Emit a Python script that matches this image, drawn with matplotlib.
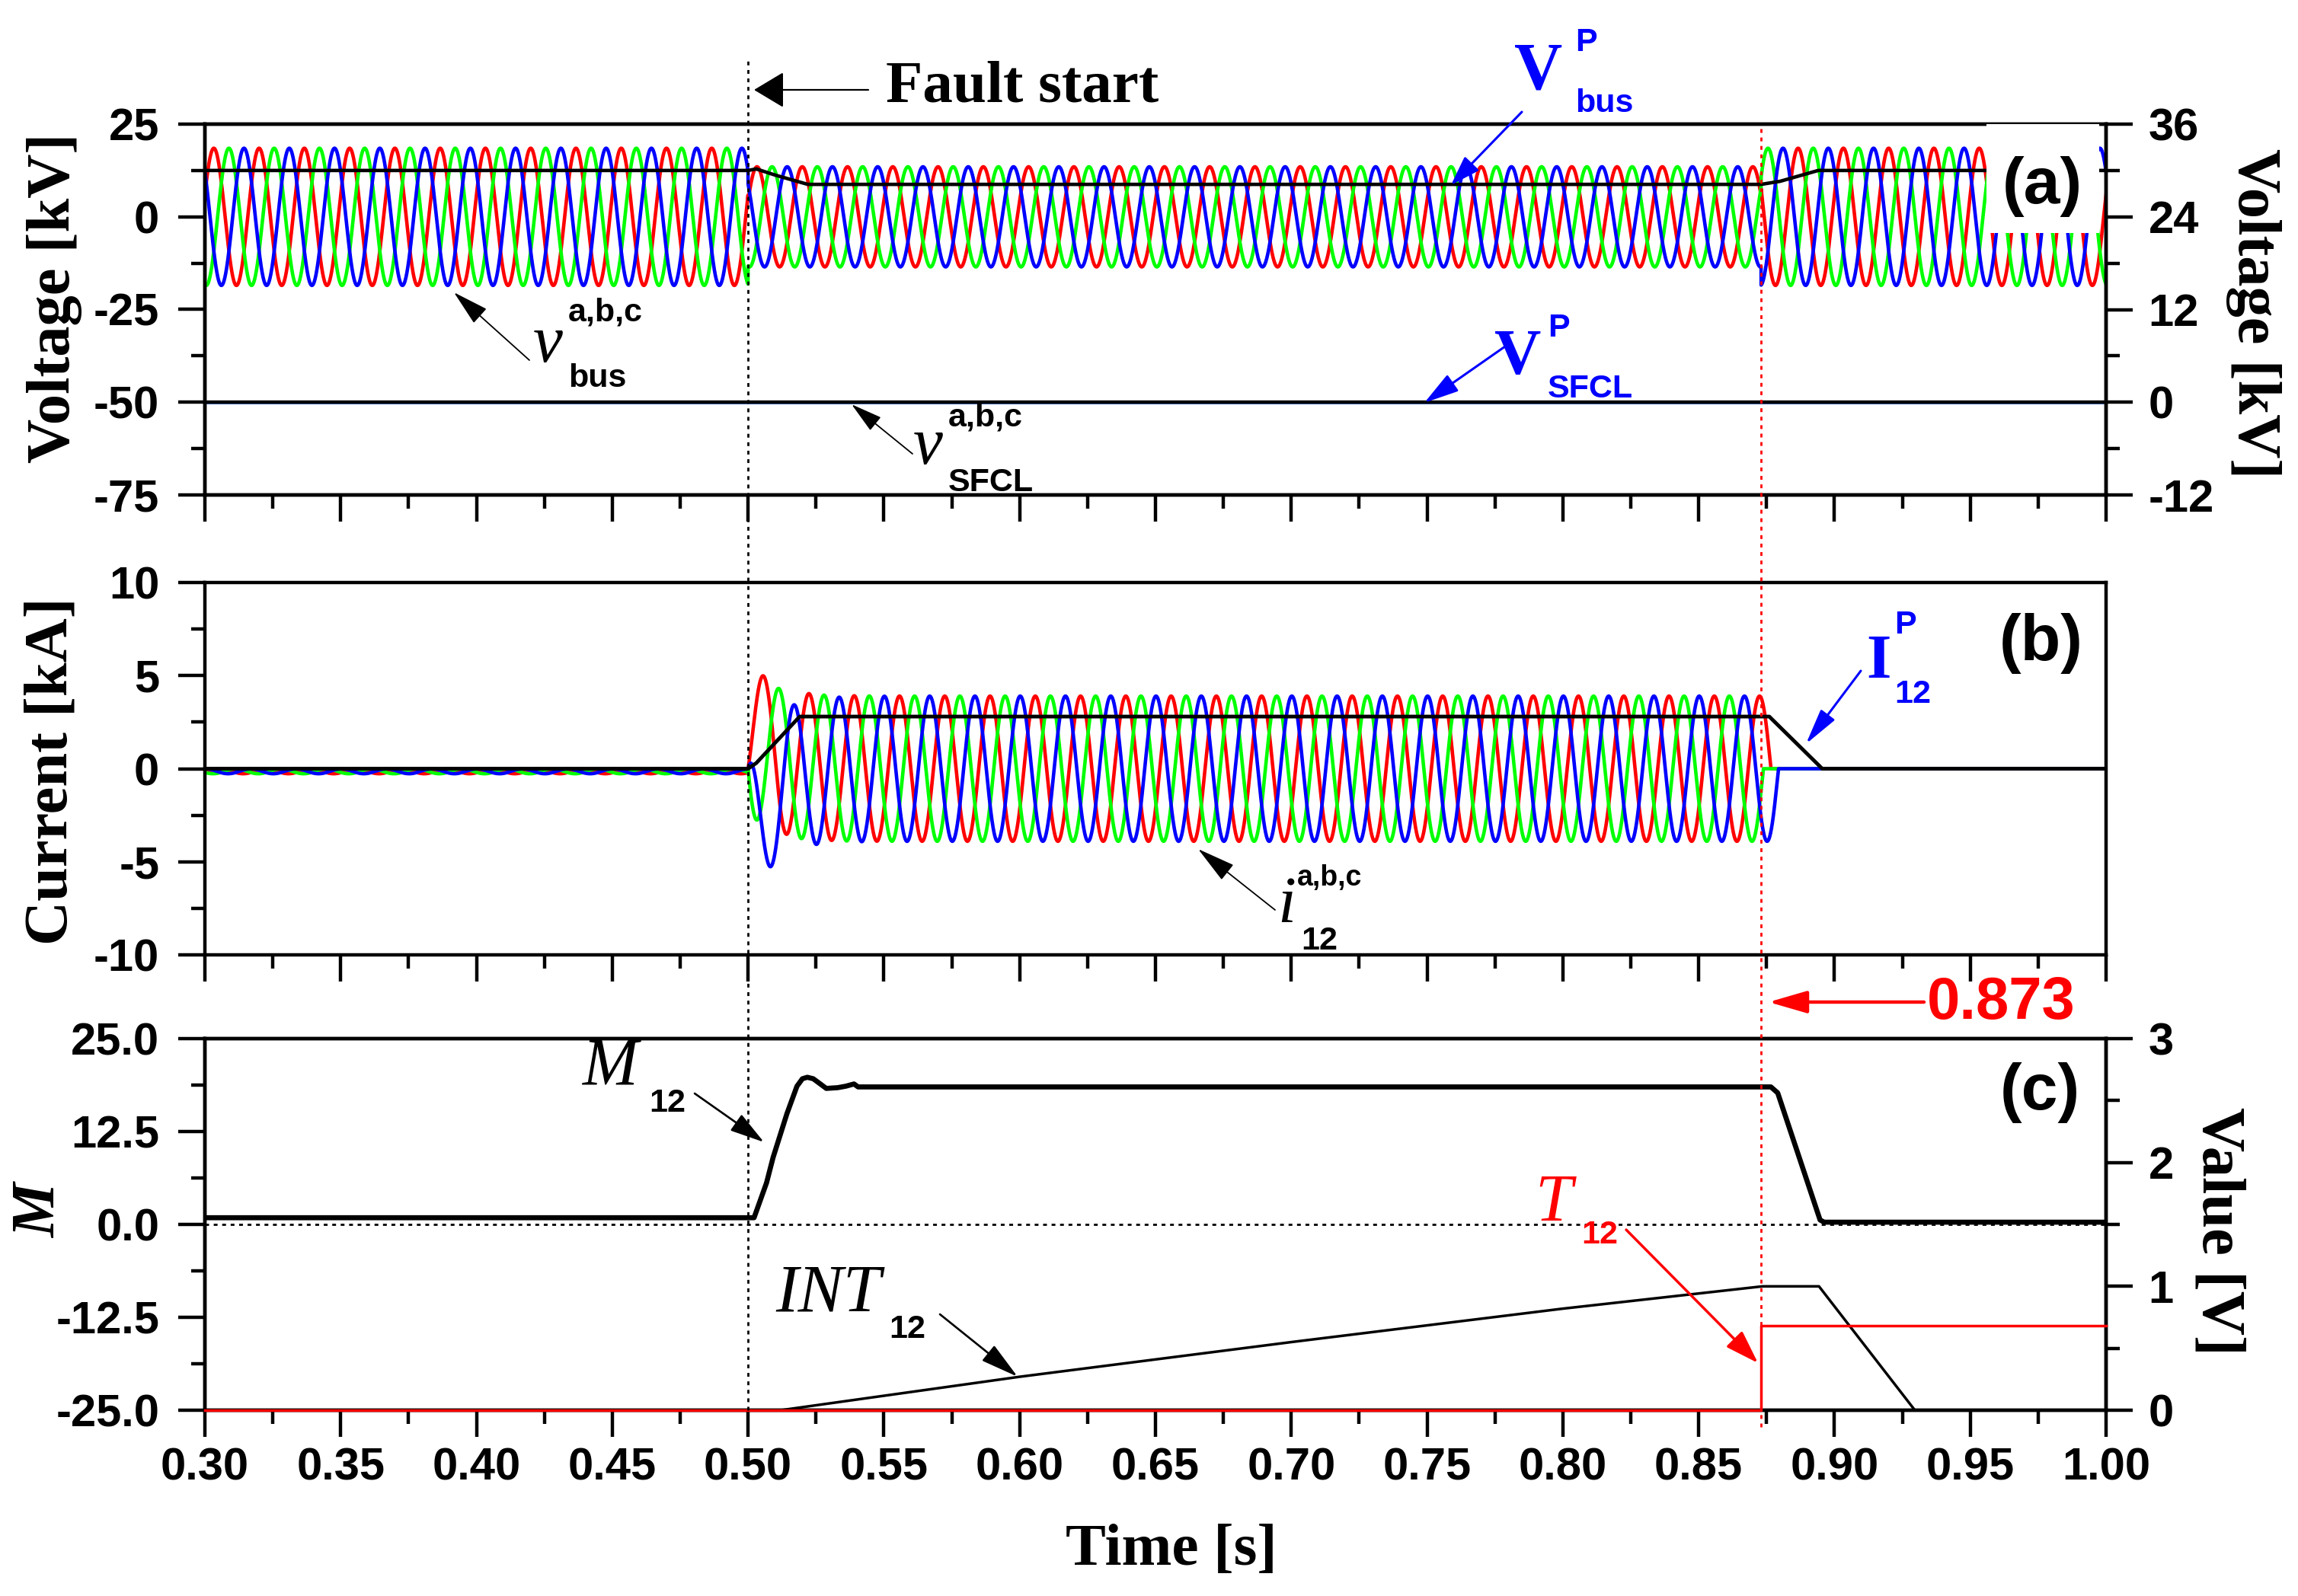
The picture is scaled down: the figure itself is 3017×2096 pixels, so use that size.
import numpy as np
import matplotlib
matplotlib.use("Agg")
import matplotlib.pyplot as plt
import matplotlib.transforms as mtransforms
from matplotlib.patches import FancyArrowPatch, Rectangle
from matplotlib.lines import Line2D
from matplotlib.ticker import MultipleLocator, FormatStrFormatter

plt.rcParams["font.family"] = ["Liberation Sans", "DejaVu Sans"]
plt.rcParams["font.weight"] = "bold"
plt.rcParams["axes.unicode_minus"] = False
SERIF = ["Liberation Serif", "DejaVu Serif"]

# ---------------- values ----------------
t_start, t_end = 0.30, 1.00
t_fault = 0.500          # fault start
t_trip = 0.873           # trip signal
f_grid = 60.0

# (a) bus phase voltages [kV], left axis
v_amp_pre = 18.5
v_amp_fault = 13.5
v_amp_post = 18.5
v_phase0 = 0.33
sfcl_offset = -50.0      # v_SFCL traces are drawn shifted to -50 kV
v_sfcl_amp = 0.0

# peak values, right axis [kV]
vbus_p_t = [0.30, 0.500, 0.503, 0.510, 0.522, 0.873, 0.880, 0.894, 1.00]
vbus_p_v = [30.0, 30.0, 30.2, 29.4, 28.2, 28.2, 28.6, 30.0, 30.0]
vsfcl_p_t = [0.30, 1.00]
vsfcl_p_v = [0.0, 0.0]

# (b) line currents [kA]
i_amp_pre = 0.13
i_off_pre = -0.14
i_amp_fault = 3.9
i_phase_fault = -0.6
i_tau_dc = 0.008
ip_t = [0.30, 0.500, 0.503, 0.519, 0.876, 0.8955, 1.00]
ip_v = [0.0, 0.0, 0.3, 2.8, 2.8, 0.0, 0.0]

# (c) M12 (left axis), INT12 and T12 (right axis, V)
m_t = [0.30, 0.5015, 0.5022, 0.5068, 0.5092, 0.5143, 0.518, 0.520, 0.5218, 0.524,
       0.5288, 0.533, 0.536, 0.539, 0.5405, 0.8766, 0.8791, 0.8947, 0.8962, 1.00]
m_v = [0.9, 0.9, 0.9, 5.6, 9.0, 14.9, 18.6, 19.6, 19.8, 19.6,
       18.3, 18.4, 18.6, 18.9, 18.5, 18.5, 17.7, 0.6, 0.3, 0.3]
int_t = [0.30, 0.512, 0.60, 0.70, 0.80, 0.8735, 0.8943, 0.9296, 1.00]
int_v = [0.0, 0.0, 0.27, 0.55, 0.82, 1.0, 1.0, 0.0, 0.0]
t12_t = [0.30, 0.873, 0.873, 1.00]
t12_v = [0.0, 0.0, 0.685, 0.685]

phase_colors = ["#ff0000", "#00ff00", "#0000ff"]
phase_shift = [0.0, -2 * np.pi / 3, 2 * np.pi / 3]

# ---------------- waveforms ----------------
t = np.arange(t_start, t_end + 1e-9, 2e-5)
w = 2 * np.pi * f_grid
v_amp = np.where(t < t_fault, v_amp_pre, np.where(t < t_trip, v_amp_fault, v_amp_post))
v_bus = [v_amp * np.sin(w * t + v_phase0 + s) for s in phase_shift]
v_sfcl = [sfcl_offset + v_sfcl_amp * np.sin(w * t + s) for s in phase_shift]

i_12 = []
for s in phase_shift:
    th = i_phase_fault + s
    dt = t - t_fault
    pre = i_off_pre + i_amp_pre * np.sin(w * dt + th)
    flt = i_amp_fault * (np.sin(w * dt + th) - np.sin(th) * np.exp(-np.clip(dt, 0, None) / i_tau_dc))
    i = np.where(t < t_fault, pre, flt)
    # breaker clears each phase at its first current zero after the trip
    k0 = np.searchsorted(t, t_trip)
    zc = np.where(np.sign(i[k0:-1]) != np.sign(i[k0 + 1:]))[0]
    if len(zc):
        i[k0 + zc[0] + 1:] = 0.0
    i_12.append(i)

# ---------------- figure ----------------
W, H = 3017, 2096
fig = plt.figure(figsize=(W / 100, H / 100), dpi=100)


def fp(x, y):
    return (x / W, 1 - y / H)


def ftext(x, y, s, **kw):
    fig.text(x / W, 1 - y / H, s, **kw)


def arrow(x0, y0, x1, y1, color="k", lw=1.2, hl=22, hw=8):
    p = FancyArrowPatch(fp(x0, y0), fp(x1, y1), transform=fig.transFigure,
                        arrowstyle=f"-|>,head_length={hl},head_width={hw}",
                        color=color, lw=lw, shrinkA=0, shrinkB=0, mutation_scale=1)
    fig.add_artist(p)


left, width = 269 / W, (2765 - 269) / W
ax_a = fig.add_axes([left, 1 - 650 / H, width, 487 / H])
ax_b = fig.add_axes([left, 1 - 1254 / H, width, 489 / H], sharex=ax_a)
ax_c = fig.add_axes([left, 1 - 1852 / H, width, 488 / H], sharex=ax_a)
ax_a2 = ax_a.twinx()
ax_c2 = ax_c.twinx()

SPW = 3.2
for ax in [ax_a, ax_b, ax_c, ax_a2, ax_c2]:
    for sp in ax.spines.values():
        sp.set_linewidth(SPW)
    ax.tick_params(which="major", direction="out", length=25, width=SPW, labelsize=43)
    ax.tick_params(which="minor", direction="out", length=13, width=SPW)
    ax.tick_params(axis="y", pad=18)
    ax.tick_params(axis="x", pad=10)

LW = 3.3
# panel (a)
for v, c in zip(v_bus, phase_colors):
    ax_a.plot(t, v, color=c, lw=LW)
for v, c in zip(v_sfcl, phase_colors):
    ax_a.plot(t, v, color=c, lw=LW)
ax_a2.plot(vbus_p_t, vbus_p_v, color="k", lw=3.3)
ax_a2.plot(vsfcl_p_t, vsfcl_p_v, color="k", lw=3.0)
ax_a.set_ylim(-75, 25)
ax_a.yaxis.set_major_locator(MultipleLocator(25))
ax_a.yaxis.set_minor_locator(MultipleLocator(12.5))
ax_a2.set_ylim(-12, 36)
ax_a2.yaxis.set_major_locator(MultipleLocator(12))
ax_a2.yaxis.set_minor_locator(MultipleLocator(6))
ax_a2.tick_params(axis="y", pad=15)
# white label box behind "(a)"
ax_a2.add_patch(Rectangle((0.956, -4.4), 0.0416, 29.4, transform=ax_a.transData,
                          facecolor="white", edgecolor="none", zorder=5))

# panel (b)
for i, c in zip(i_12, phase_colors):
    ax_b.plot(t, i, color=c, lw=LW)
ax_b.plot(ip_t, ip_v, color="k", lw=3.5)
ax_b.set_ylim(-10, 10)
ax_b.yaxis.set_major_locator(MultipleLocator(5))
ax_b.yaxis.set_minor_locator(MultipleLocator(2.5))

# panel (c)
ax_c.plot(m_t, m_v, color="k", lw=4.8)
ax_c.axhline(0, color="k", lw=2.0, ls=(0, (1.8, 2.2)), zorder=3)
ax_c2.plot(int_t, int_v, color="k", lw=2.5)
ax_c2.plot(t12_t, t12_v, color="#ff0000", lw=2.5, clip_on=False, zorder=4)
ax_c.set_ylim(-25, 25)
ax_c.yaxis.set_major_locator(MultipleLocator(12.5))
ax_c.yaxis.set_minor_locator(MultipleLocator(6.25))
ax_c.yaxis.set_major_formatter(FormatStrFormatter("%.1f"))
ax_c2.set_ylim(0, 3)
ax_c2.yaxis.set_major_locator(MultipleLocator(1))
ax_c2.yaxis.set_minor_locator(MultipleLocator(0.5))
ax_c2.tick_params(axis="y", pad=15)

ax_c.set_xlim(t_start, t_end)
ax_c.xaxis.set_major_locator(MultipleLocator(0.05))
ax_c.xaxis.set_minor_locator(MultipleLocator(0.025))
ax_c.xaxis.set_major_formatter(FormatStrFormatter("%.2f"))
for ax in [ax_a, ax_b]:
    ax.tick_params(axis="x", labelbottom=False)
for ax in [ax_a, ax_b, ax_c]:
    ax.tick_params(right=False, top=False)
for ax in [ax_a2, ax_c2]:
    ax.tick_params(axis="x", bottom=False, labelbottom=False)

# vertical markers through all panels
blend = mtransforms.blended_transform_factory(ax_c.transData, fig.transFigure)
fig.add_artist(Line2D([t_fault, t_fault], [1 - 1852 / H, 1 - 79 / H], transform=blend,
                      color="k", lw=2.0, ls=(0, (1.8, 2.2))))
fig.add_artist(Line2D([t_trip, t_trip], [1 - 1874 / H, 1 - 163 / H], transform=blend,
                      color="#ff0000", lw=2.0, ls=(0, (1.8, 2.2))))

# axis labels
ftext(72, 391, "Voltage [kV]", family=SERIF, size=58, rotation=90, ha="center", va="center")
ftext(68, 1013, "Current [kA]", family=SERIF, size=58, rotation=90, ha="center", va="center")
ftext(53, 1590, "M", family=SERIF, size=58, style="italic", rotation=90, ha="center", va="center")
ftext(2958, 412, "Voltage [kV]", family=SERIF, size=58, rotation=270, ha="center", va="center")
ftext(2912, 1617, "Value [V]", family=SERIF, size=58, rotation=270, ha="center", va="center")
ftext(1538, 2036, "Time [s]", family=SERIF, size=57, ha="center", va="center")

# panel tags
ftext(2681, 267, "(a)", size=62, ha="center", va="baseline")
ftext(2680, 867, "(b)", size=62, ha="center", va="baseline")
ftext(2678, 1457, "(c)", size=62, ha="center", va="baseline")

# fault start
ftext(1163, 134, "Fault start", family=SERIF, size=57, ha="left", va="baseline")
arrow(1140, 118, 990, 118, lw=1.6, hl=25, hw=15)

# V_bus^P
BLUE = "#0000ff"
ftext(1988, 116, "V", family=SERIF, size=63, color=BLUE, va="baseline")
ftext(2068, 67, "P", size=31, color=BLUE, va="baseline")
ftext(2068, 147, "bus", size=31, color=BLUE, va="baseline")
arrow(1998, 147, 1905, 243, color=BLUE, lw=2.2, hl=24, hw=8)

# V_SFCL^P
ftext(1962, 491, "V", family=SERIF, size=61, color=BLUE, va="baseline")
ftext(2032, 442, "P", size=31, color=BLUE, va="baseline")
ftext(2032, 522, "SFCL", size=31, color=BLUE, va="baseline")
arrow(1976, 455, 1870, 529, color=BLUE, lw=2.2, hl=28, hw=8)

# v_bus^abc
ftext(700, 475, "v", family=SERIF, weight="normal", style="italic", size=63, va="baseline")
ftext(746, 422, "a,b,c", size=31, va="baseline")
ftext(746, 508, "bus", size=31, va="baseline")
arrow(695, 473, 596, 384, lw=1.3, hl=30, hw=8)

# v_SFCL^abc
ftext(1199, 609, "v", family=SERIF, weight="normal", style="italic", size=63, va="baseline")
ftext(1245, 560, "a,b,c", size=31, va="baseline")
ftext(1245, 645, "SFCL", size=31, va="baseline")
arrow(1198, 596, 1118, 531, lw=1.3, hl=26, hw=7)

# I_12^P
ftext(2450, 890, "I", family=SERIF, size=60, color=BLUE, va="baseline")
ftext(2487, 832, "P", size=31, color=BLUE, va="baseline")
ftext(2487, 923, "12", size=31, color=BLUE, va="baseline")
arrow(2443, 881, 2371, 977, color=BLUE, lw=2.2, hl=29, hw=7)

# i_12^abc
ftext(1677, 1211, "i", family=SERIF, weight="normal", style="italic", size=62, va="baseline")
ftext(1703, 1163, "a,b,c", size=27, va="baseline")
ftext(1708, 1247, "12", size=31, va="baseline")
arrow(1674, 1195, 1573, 1115, lw=1.3, hl=32, hw=8)

# trip time
RED = "#ff0000"
ftext(2530, 1338, "0.873", size=56, color=RED, va="baseline")
arrow(2526, 1316, 2322, 1316, color=RED, lw=3.2, hl=31, hw=9)

# M_12
ftext(764, 1424, "M", family=SERIF, weight="normal", style="italic", size=63, va="baseline")
ftext(852, 1460, "12", size=31, va="baseline")
arrow(912, 1436, 1003, 1500, lw=1.9, hl=28, hw=8)

# INT_12
ftext(1018, 1721, "INT", family=SERIF, weight="normal", style="italic", size=64, va="baseline")
ftext(1167, 1757, "12", size=31, va="baseline")
arrow(1234, 1726, 1336, 1808, lw=1.9, hl=31, hw=8)

# T_12
ftext(2015, 1602, "T", family=SERIF, weight="normal", style="italic", size=63, color=RED, va="baseline")
ftext(2076, 1633, "12", size=31, color=RED, va="baseline")
arrow(2135, 1615, 2308, 1790, color=RED, lw=2.5, hl=27, hw=9)

fig.savefig("out.png", dpi=100)
